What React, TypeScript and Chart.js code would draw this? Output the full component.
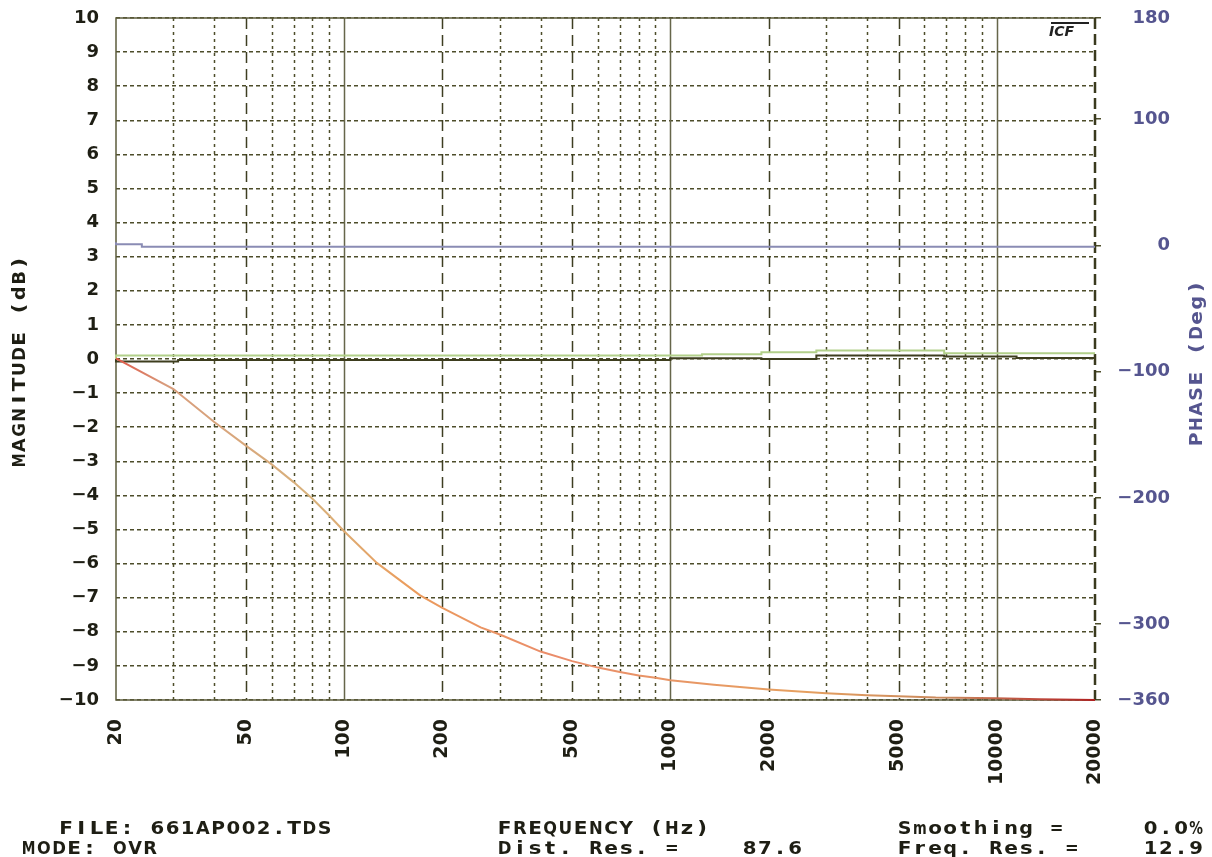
import React, { useEffect, useRef } from "react";
import { Chart, registerables } from "chart.js";

Chart.register(...registerables);

// ---- axis tick values ----
const xTickValues = [20, 50, 100, 200, 500, 1000, 2000, 5000, 10000, 20000];
const yTickValues = [10, 9, 8, 7, 6, 5, 4, 3, 2, 1, 0, -1, -2, -3, -4, -5, -6, -7, -8, -9, -10];
const phaseTickValues = [180, 100, 0, -100, -200, -300, -360];
const solidGridFreqs = [100, 1000, 10000];
const dashedGridFreqs = [50, 200, 500, 2000, 5000];
const dottedGridFreqs = [30, 40, 60, 70, 80, 90, 300, 400, 600, 700, 800, 900, 3000, 4000, 6000, 7000, 8000, 9000];

// ---- magnitude response (dB) ----
const magFreq = [20, 30, 40, 50, 60, 70, 80, 90, 100, 126, 145, 171, 200, 262, 300, 400, 500, 600, 700, 800, 900, 1000, 1360, 2000, 3000, 4000, 5000, 6500, 10000, 13500, 20000];
const magDb = [0.02, -0.88, -1.85, -2.54, -3.09, -3.61, -4.1, -4.59, -5.05, -5.98, -6.42, -6.93, -7.3, -7.87, -8.08, -8.58, -8.86, -9.05, -9.18, -9.28, -9.35, -9.42, -9.55, -9.69, -9.8, -9.86, -9.89, -9.93, -9.95, -9.98, -10.0];

// ---- light green reference trace (dB) ----
const greenFreq = [20, 1250, 1900, 2800, 6900, 17000, 20000];
const greenDb = [0.0, 0.1, 0.14, 0.2, 0.25, 0.17, 0.17];

// ---- dark reference trace (dB) ----
const darkFreq = [20, 31, 1000, 1900, 2800, 6900, 11500, 17000, 20000];
const darkDb = [0.0, -0.07, -0.03, 0.02, 0.0, 0.1, 0.07, 0.03, 0.03];

// ---- phase trace (deg) ----
const phaseFreq = [20, 24, 92, 20000];
const phaseDeg = [2.4, 0.8, -1.1, -1.1];

const INK = "#1e1e14";
const PHASE_INK = "#55558f";
const GRID = "#4d4d2a";
const FONT = "'DejaVu Sans', sans-serif";

const fmt = (v: number) => (v < 0 ? "\u2212" + Math.abs(v) : String(v));
const pts = (xs: number[], ys: number[]) => xs.map((x, i) => ({ x, y: ys[i] }));

function drawMono(ctx: CanvasRenderingContext2D, text: string, x: number, y: number, adv: number, sx = 1.25) {
  ctx.textAlign = "center";
  for (let i = 0; i < text.length; i++) {
    const ch = text[i];
    if (ch === " ") continue;
    const w = ctx.measureText(ch).width || 1;
    const s = Math.min(sx, (adv - 1.5) / w);
    ctx.save();
    ctx.translate(x + i * adv + adv / 2, y);
    ctx.scale(s, 1);
    ctx.fillText(ch, 0, 0);
    ctx.restore();
  }
}

const zeroPad = (s: any) => {
  s.paddingTop = 0;
  s.paddingBottom = 0;
  s.paddingLeft = 0;
  s.paddingRight = 0;
};

const decorPlugin = {
  id: "decor",
  beforeDatasetsDraw(chart: any) {
    const { ctx, chartArea: a, scales } = chart;
    const xs = scales.x;
    ctx.save();
    const vline = (f: number, dash: number[], w: number, color: string) => {
      const px = Math.round(xs.getPixelForValue(f)) + 0.5;
      ctx.beginPath();
      ctx.setLineDash(dash);
      ctx.lineWidth = w;
      ctx.strokeStyle = color;
      ctx.moveTo(px, a.top);
      ctx.lineTo(px, a.bottom);
      ctx.stroke();
    };
    dottedGridFreqs.forEach((f) => vline(f, [3, 4], 1.5, GRID));
    dashedGridFreqs.forEach((f) => vline(f, [11, 6], 1.5, "#3e3e22"));
    solidGridFreqs.forEach((f) => vline(f, [], 1.5, "#66664a"));
    // frame
    ctx.setLineDash([]);
    ctx.strokeStyle = "#5c5c3c";
    ctx.lineWidth = 1.5;
    ctx.beginPath();
    ctx.moveTo(a.right, a.top);
    ctx.lineTo(a.left, a.top);
    ctx.lineTo(a.left, a.bottom);
    ctx.lineTo(a.right, a.bottom);
    ctx.stroke();
    ctx.setLineDash([11, 5]);
    ctx.lineWidth = 2.5;
    ctx.strokeStyle = "#3a3a1e";
    ctx.beginPath();
    ctx.moveTo(a.right, a.top);
    ctx.lineTo(a.right, a.bottom);
    ctx.stroke();
    ctx.restore();
  },
  afterDraw(chart: any) {
    const { ctx, chartArea: a } = chart;
    ctx.save();
    ctx.textBaseline = "alphabetic";
    ctx.font = `bold 17px ${FONT}`;
    ctx.fillStyle = INK;
    const adv = 15.2;
    // footer
    drawMono(ctx, "FILE: 661AP002.TDS", 58.5, 834, adv);
    drawMono(ctx, "MODE: OVR", 21, 854, adv);
    drawMono(ctx, "FREQUENCY (Hz)", 497, 834, adv);
    drawMono(ctx, "Dist. Res. =", 497, 854, adv);
    drawMono(ctx, "87.6", 742, 854, adv);
    drawMono(ctx, "Smoothing =", 897, 834, adv);
    drawMono(ctx, "0.0%", 1143, 834, adv);
    drawMono(ctx, "Freq. Res. =", 897, 854, adv);
    drawMono(ctx, "12.9", 1143, 854, adv);
    // left title
    ctx.save();
    ctx.translate(21, 468);
    ctx.rotate(-Math.PI / 2);
    ctx.textBaseline = "middle";
    drawMono(ctx, "MAGNITUDE (dB)", 0, 0, adv);
    ctx.restore();
    // right title
    ctx.save();
    ctx.translate(1197.5, 447);
    ctx.rotate(-Math.PI / 2);
    ctx.textBaseline = "middle";
    ctx.fillStyle = PHASE_INK;
    drawMono(ctx, "PHASE (Deg)", 0, 0, adv);
    ctx.restore();
    // logo
    ctx.strokeStyle = "#222";
    ctx.lineWidth = 2;
    ctx.beginPath();
    ctx.moveTo(a.right - 44, a.top + 5);
    ctx.lineTo(a.right - 6, a.top + 5);
    ctx.stroke();
    ctx.font = `italic bold 14px ${FONT}`;
    ctx.fillStyle = "#222";
    ctx.textAlign = "left";
    ctx.textBaseline = "alphabetic";
    ctx.fillText("ICF", a.right - 46, a.top + 18);
    ctx.restore();
  },
};

export default function App() {
  const ref = useRef<HTMLCanvasElement | null>(null);
  useEffect(() => {
    if (!ref.current) return;
    const magGradient = (c: any) => {
      const chart = c.chart;
      const a = chart.chartArea;
      if (!a) return "#e0a070";
      const g = chart.ctx.createLinearGradient(a.left, 0, a.right, 0);
      g.addColorStop(0, "#e05848");
      g.addColorStop(0.05, "#d89c7c");
      g.addColorStop(0.2, "#d8b27c");
      g.addColorStop(0.3, "#eb9c5c");
      g.addColorStop(0.45, "#ea8c6a");
      g.addColorStop(0.7, "#e6a060");
      g.addColorStop(0.85, "#c8885c");
      g.addColorStop(0.93, "#c05040");
      g.addColorStop(1, "#b02020");
      return g;
    };
    const chart = new Chart(ref.current, {
      type: "line",
      data: {
        datasets: [
          {
            label: "Magnitude",
            data: pts(magFreq, magDb),
            yAxisID: "y",
            borderColor: magGradient,
            borderWidth: 2,
            pointRadius: 0,
            tension: 0,
            clip: false,
          },
          {
            label: "Green",
            data: pts(greenFreq, greenDb),
            yAxisID: "y",
            borderColor: "#b2d08a",
            borderWidth: 2,
            pointRadius: 0,
            stepped: "after",
            clip: false,
          },
          {
            label: "Dark",
            data: pts(darkFreq, darkDb),
            yAxisID: "y",
            borderColor: "#3d3d1e",
            borderWidth: 2,
            pointRadius: 0,
            stepped: "after",
            clip: false,
          },
          {
            label: "Phase",
            data: pts(phaseFreq, phaseDeg),
            yAxisID: "y1",
            borderColor: "#8a8cb4",
            borderWidth: 2,
            pointRadius: 0,
            stepped: "after",
            clip: false,
          },
        ],
      },
      options: {
        animation: false,
        responsive: false,
        devicePixelRatio: 1,
        layout: { padding: { top: 18, right: 42, left: 0, bottom: 0 } },
        plugins: { legend: { display: false }, tooltip: { enabled: false } },
        scales: {
          x: {
            type: "logarithmic",
            position: "bottom",
            min: 20,
            max: 20000,
            afterBuildTicks: (s: any) => {
              s.ticks = xTickValues.map((v) => ({ value: v }));
            },
            afterFit: (s: any) => {
              s.height = 157;
              zeroPad(s);
            },
            grid: { display: false, drawTicks: false },
            border: { display: false },
            ticks: {
              autoSkip: false,
              minRotation: 90,
              maxRotation: 90,
              padding: 19,
              color: INK,
              font: { family: FONT, weight: "bold", size: 19 },
              callback: (v: any) => String(v),
            },
          },
          y: {
            type: "linear",
            position: "left",
            min: -10,
            max: 10,
            afterBuildTicks: (s: any) => {
              s.ticks = yTickValues.map((v) => ({ value: v }));
            },
            afterFit: (s: any) => {
              s.width = 116;
              zeroPad(s);
            },
            grid: { color: GRID, lineWidth: 1.5, drawTicks: false },
            border: { display: false, dash: [4, 3] },
            ticks: {
              padding: 17,
              color: INK,
              font: { family: FONT, weight: "bold", size: 18 },
              callback: (v: any) => fmt(Number(v)),
            },
          },
          y1: {
            type: "linear",
            position: "right",
            min: -360,
            max: 180,
            afterBuildTicks: (s: any) => {
              s.ticks = phaseTickValues.map((v) => ({ value: v }));
            },
            afterFit: (s: any) => {
              s.width = 75;
              zeroPad(s);
            },
            grid: { drawOnChartArea: false, drawTicks: true, tickLength: 6, color: GRID, lineWidth: 1.5 },
            border: { display: false },
            ticks: {
              padding: 10,
              crossAlign: "far",
              color: PHASE_INK,
              font: { family: FONT, weight: "bold", size: 18 },
              callback: (v: any) => fmt(Number(v)),
            },
          },
        },
      },
      plugins: [decorPlugin],
    } as any);
    return () => chart.destroy();
  }, []);
  return (
    <div style={{ position: "fixed", left: 0, top: 0, width: 1212, height: 857, background: "#fff" }}>
      <canvas ref={ref} width={1212} height={857} style={{ display: "block" }} />
    </div>
  );
}
